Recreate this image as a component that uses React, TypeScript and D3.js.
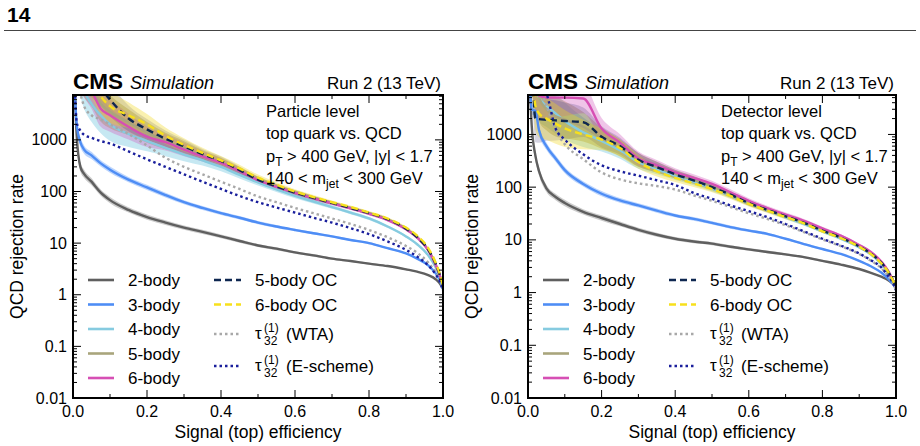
import * as d3 from "d3";

// signal efficiency grid shared by all curves
const eff = [0.005, 0.01, 0.02, 0.03, 0.05, 0.075, 0.1, 0.15, 0.2, 0.25, 0.3, 0.35, 0.4, 0.45, 0.5, 0.55, 0.6, 0.65, 0.7, 0.75, 0.8, 0.85, 0.9, 0.93, 0.96, 0.98, 0.99, 1.0];

// particle level
const partTwo = [9000, 1200, 300, 220, 155, 95, 68, 44, 32, 25, 20, 16.5, 13.5, 11, 9, 7.8, 6.6, 5.8, 5.0, 4.5, 4.0, 3.6, 3.1, 2.8, 2.4, 2.0, 1.7, 1.3];
const partThree = [8000, 2000, 900, 650, 500, 350, 265, 170, 120, 85, 62, 48, 38, 31, 25, 21, 18, 15.5, 13.5, 11.5, 10, 8, 6.3, 5, 3.7, 2.6, 2, 1.3];
const partFour = [30000, 20000, 15000, 9000, 5000, 3000, 2000, 1300, 950, 700, 520, 400, 300, 210, 150, 110, 82, 64, 50, 39, 30, 21, 13.5, 9.5, 5.8, 3.4, 2.3, 1.4];
const partFive = [30000, 25000, 20000, 15000, 10000, 5000, 3500, 2200, 1400, 950, 700, 500, 370, 255, 168, 125, 95, 75, 60, 48, 38, 29, 19, 13, 7.4, 3.9, 2.5, 1.5];
const partSix = [30000, 25000, 20000, 15000, 9000, 4000, 3000, 1800, 1150, 900, 650, 480, 360, 250, 165, 123, 94, 74, 59, 47, 37, 28, 18.5, 12.8, 7.2, 3.8, 2.5, 1.5];
const partFiveOC = [30000, 25000, 20000, 18000, 15000, 10000, 6000, 2600, 1600, 1050, 750, 530, 390, 260, 170, 125, 95, 75, 60, 48, 38, 29, 19, 13, 7.5, 4, 2.6, 1.5];
const partSixOC = [30000, 25000, 22000, 20000, 15000, 7000, 4500, 3000, 2000, 1200, 800, 560, 400, 280, 185, 135, 100, 78, 62, 50, 39, 30, 20, 14, 8, 4.2, 2.7, 1.5];
const partWTA = [30000, 20000, 8000, 4500, 3000, 2500, 2000, 1300, 780, 450, 300, 215, 155, 112, 80, 62, 48, 38, 30, 23.5, 18, 13, 8.8, 6.5, 4.2, 2.7, 2, 1.3];
const partEsch = [9000, 2200, 1500, 1250, 1100, 950, 850, 600, 420, 300, 215, 155, 112, 82, 62, 49, 39, 31, 25, 19.5, 15, 10.8, 7.4, 5.5, 3.7, 2.5, 1.9, 1.2];

// detector level
const detTwo = [9000, 1500, 400, 200, 95, 65, 50, 34, 26, 20, 15.5, 12.5, 10.5, 9.3, 8.5, 7.4, 6.6, 5.9, 5.3, 4.7, 4.0, 3.4, 2.8, 2.4, 2.0, 1.7, 1.5, 1.2];
const detThree = [9000, 3000, 2800, 1200, 600, 350, 210, 115, 75, 56, 45, 36, 29, 25, 21, 17.5, 15, 13, 10.5, 8.3, 6.7, 5.4, 4.0, 3.2, 2.4, 1.8, 1.5, 1.2];
const detFour = [30000, 20000, 8000, 5000, 3500, 2500, 1800, 1100, 750, 500, 300, 220, 165, 128, 95, 70, 50, 37, 27, 20, 14.5, 10.5, 7.2, 5.4, 3.5, 2.3, 1.7, 1.25];
const detFive = [30000, 20000, 9000, 5000, 3000, 2200, 1900, 1400, 850, 560, 330, 240, 178, 138, 102, 73, 51, 38, 28.5, 21.5, 15.5, 11.2, 7.6, 5.7, 3.7, 2.4, 1.8, 1.3];
const detSix = [30000, 20000, 8000, 5500, 5000, 5000, 5000, 4800, 1300, 700, 350, 260, 190, 150, 115, 80, 55, 40, 30, 23, 16.5, 12, 8, 6, 3.9, 2.5, 1.8, 1.3];
const detFiveOC = [30000, 20000, 2000, 1950, 1900, 1850, 1800, 1700, 900, 600, 330, 240, 175, 135, 100, 72, 50, 37, 28, 21, 15, 11, 7.5, 5.6, 3.7, 2.4, 1.8, 1.3];
const detSixOC = [30000, 20000, 3500, 2500, 2000, 1600, 1300, 1000, 800, 550, 300, 200, 150, 118, 92, 68, 48, 36, 27, 20.5, 14.5, 10.8, 7.4, 5.5, 3.6, 2.4, 1.8, 1.3];
const detWTA = [30000, 20000, 12000, 8000, 3500, 1200, 650, 340, 190, 140, 118, 105, 90, 70, 55, 42, 32, 25, 19, 14, 10.2, 7.6, 5.4, 4.1, 2.9, 2, 1.6, 1.1];
const detEsch = [30000, 20000, 15000, 9000, 6000, 1300, 800, 420, 260, 200, 165, 135, 110, 78, 60, 45, 35, 27, 20, 14.5, 10.5, 7.8, 5.5, 4.2, 3, 2, 1.6, 1.1];

// band half widths, in decades
const errNarrow = [0.1, 0.1, 0.09, 0.08, 0.07, 0.06, 0.06, 0.05, 0.05, 0.045, 0.04, 0.04, 0.035, 0.035, 0.03, 0.03, 0.025, 0.025, 0.02, 0.02, 0.02, 0.015, 0.015, 0.01, 0.01, 0.01, 0.01, 0.01];
const errWide = [0.35, 0.35, 0.35, 0.35, 0.35, 0.35, 0.32, 0.25, 0.2, 0.16, 0.13, 0.1, 0.085, 0.07, 0.06, 0.05, 0.045, 0.04, 0.035, 0.03, 0.03, 0.025, 0.02, 0.02, 0.015, 0.01, 0.01, 0.01];
const errWideDet = [0.5, 0.5, 0.45, 0.45, 0.4, 0.38, 0.35, 0.28, 0.2, 0.16, 0.13, 0.1, 0.08, 0.07, 0.06, 0.055, 0.05, 0.045, 0.04, 0.035, 0.03, 0.025, 0.02, 0.02, 0.015, 0.01, 0.01, 0.01];

const yTicks = [0.01, 0.1, 1, 10, 100, 1000];
const xTicks = [0, 0.2, 0.4, 0.6, 0.8, 1.0];
const xMinor = [0.1, 0.3, 0.5, 0.7, 0.9];

const FONT = "'Liberation Sans', Arial, Helvetica, sans-serif";
const TOP = 95, BOTTOM = 398;

const makeSeries = (v: number[][], wide: number[]) => [
  { key: "two", label: "2-body", vals: v[0], color: "#5f5f5f", band: "rgba(110,110,110,0.35)", err: errNarrow, dash: null },
  { key: "three", label: "3-body", vals: v[1], color: "#4e8df5", band: "rgba(80,145,250,0.38)", err: errNarrow, dash: null },
  { key: "four", label: "4-body", vals: v[2], color: "#86cbe0", band: "rgba(120,200,225,0.42)", err: wide, dash: null },
  { key: "five", label: "5-body", vals: v[3], color: "#a9a57c", band: "rgba(165,155,55,0.4)", err: wide, dash: null },
  { key: "six", label: "6-body", vals: v[4], color: "#d64fb4", band: "rgba(210,90,190,0.35)", err: wide, dash: null },
  { key: "wta", label: "WTA", vals: v[7], color: "#a8a8a8", band: null, err: null, dash: "2.5,3" },
  { key: "esch", label: "E-scheme", vals: v[8], color: "#1a1f9c", band: null, err: null, dash: "2.5,3" },
  { key: "fiveOC", label: "5-body OC", vals: v[5], color: "#0e2750", band: "rgba(45,40,110,0.2)", err: wide, dash: "7,4" },
  { key: "sixOC", label: "6-body OC", vals: v[6], color: "#f7e01c", band: "rgba(240,215,30,0.35)", err: wide, dash: "7,4" },
];

const panels = [
  {
    id: "p", x0: 73, x1: 443, yMax: 7400, level: "Particle level",
    series: makeSeries([partTwo, partThree, partFour, partFive, partSix, partFiveOC, partSixOC, partWTA, partEsch], errWide),
  },
  {
    id: "d", x0: 528, x1: 896, yMax: 5600, level: "Detector level",
    series: makeSeries([detTwo, detThree, detFour, detFive, detSix, detFiveOC, detSixOC, detWTA, detEsch], errWideDet),
  },
];

const fmt = (v: number) => (v < 1 ? String(v) : d3.format("d")(v));

function Panel({ p }: { p: any }) {
  const x = d3.scaleLinear().domain([0, 1]).range([p.x0, p.x1]);
  const y = d3.scaleLog().domain([0.01, p.yMax]).range([BOTTOM, TOP]);
  const line = d3.line<number>().x((_, i) => x(eff[i])).y(d => y(d)).curve(d3.curveMonotoneX);
  const area = (err: number[]) =>
    d3.area<number>()
      .x((_, i) => x(eff[i]))
      .y0((d, i) => y(d * Math.pow(10, -err[i])))
      .y1((d, i) => y(d * Math.pow(10, err[i])))
      .curve(d3.curveMonotoneX);

  const minorY: number[] = [];
  for (let e = -2; e <= 3; e++) for (let k = 2; k <= 9; k++) {
    const v = k * Math.pow(10, e);
    if (v < p.yMax) minorY.push(v);
  }

  const leftCol = ["two", "three", "four", "five", "six"];
  const rowY = [280, 304.5, 329, 353.5, 378];
  const byKey = (k: string) => p.series.find((s: any) => s.key === k);
  const cx = (p.x0 + p.x1) / 2;

  return (
    <g>
      <defs>
        <clipPath id={"clip-" + p.id}>
          <rect x={p.x0} y={TOP} width={p.x1 - p.x0} height={BOTTOM - TOP} />
        </clipPath>
      </defs>
      <g clipPath={`url(#clip-${p.id})`}>
        {p.series.filter((s: any) => s.band).map((s: any) => (
          <path key={"b" + s.key} d={area(s.err)(s.vals) || ""} fill={s.band} stroke="none" />
        ))}
        {p.series.map((s: any) => (
          <path key={"l" + s.key} d={line(s.vals) || ""} fill="none" stroke={s.color}
            strokeWidth={2.4} strokeDasharray={s.dash || undefined} />
        ))}
      </g>

      {/* ticks, all four sides, pointing in */}
      {yTicks.map(v => (
        <g key={"yt" + v}>
          <line x1={p.x0} x2={p.x0 + 8} y1={y(v)} y2={y(v)} stroke="#000" strokeWidth={1} />
          <line x1={p.x1} x2={p.x1 - 8} y1={y(v)} y2={y(v)} stroke="#000" strokeWidth={1} />
          <text x={p.x0 - 6} y={y(v) + 5.5} textAnchor="end" fontSize={16} fontFamily={FONT}>{fmt(v)}</text>
        </g>
      ))}
      {minorY.map(v => (
        <g key={"ym" + v}>
          <line x1={p.x0} x2={p.x0 + 4} y1={y(v)} y2={y(v)} stroke="#000" strokeWidth={1} />
          <line x1={p.x1} x2={p.x1 - 4} y1={y(v)} y2={y(v)} stroke="#000" strokeWidth={1} />
        </g>
      ))}
      {xTicks.map(v => (
        <g key={"xt" + v}>
          <line x1={x(v)} x2={x(v)} y1={BOTTOM} y2={BOTTOM - 8} stroke="#000" strokeWidth={1} />
          <line x1={x(v)} x2={x(v)} y1={TOP} y2={TOP + 8} stroke="#000" strokeWidth={1} />
          <text x={x(v)} y={417} textAnchor="middle" fontSize={16} fontFamily={FONT}>{v.toFixed(1)}</text>
        </g>
      ))}
      {xMinor.map(v => (
        <g key={"xm" + v}>
          <line x1={x(v)} x2={x(v)} y1={BOTTOM} y2={BOTTOM - 4} stroke="#000" strokeWidth={1} />
          <line x1={x(v)} x2={x(v)} y1={TOP} y2={TOP + 4} stroke="#000" strokeWidth={1} />
        </g>
      ))}
      <rect x={p.x0} y={TOP} width={p.x1 - p.x0} height={BOTTOM - TOP} fill="none" stroke="#000" strokeWidth={2} />

      {/* header */}
      <text x={p.x0} y={89} fontSize={22.5} fontWeight="bold" fontFamily={FONT}>CMS</text>
      <text x={p.x0 + 57} y={89} fontSize={18} fontStyle="italic" fontFamily={FONT}>Simulation</text>
      <text x={p.x1 - 2} y={89} textAnchor="end" fontSize={17} fontFamily={FONT}>Run 2 (13 TeV)</text>

      {/* selection text */}
      <g fontSize={16.5} fontFamily={FONT}>
        <text x={p.x0 + 193} y={117}>{p.level}</text>
        <text x={p.x0 + 193} y={139}>top quark vs. QCD</text>
        <text x={p.x0 + 193} y={161.5}>
          p<tspan fontSize={12} dy={4}>T</tspan><tspan dy={-4}>{" > 400 GeV, |y| < 1.7"}</tspan>
        </text>
        <text x={p.x0 + 193} y={183.5}>
          {"140 < m"}<tspan fontSize={12} dy={4}>jet</tspan><tspan dy={-4}>{" < 300 GeV"}</tspan>
        </text>
      </g>

      {/* legend */}
      <g fontSize={17} fontFamily={FONT}>
        {leftCol.map((k, i) => {
          const s = byKey(k);
          return (
            <g key={"lg" + k}>
              <line x1={p.x0 + 15} x2={p.x0 + 41} y1={rowY[i]} y2={rowY[i]} stroke={s.color} strokeWidth={2.6} />
              <text x={p.x0 + 55} y={rowY[i] + 6}>{s.label}</text>
            </g>
          );
        })}
        {["fiveOC", "sixOC"].map((k, i) => {
          const s = byKey(k);
          return (
            <g key={"lg" + k}>
              <line x1={p.x0 + 141} x2={p.x0 + 168} y1={rowY[i]} y2={rowY[i]} stroke={s.color} strokeWidth={2.6} strokeDasharray={s.dash} />
              <text x={p.x0 + 182} y={rowY[i] + 6}>{s.label}</text>
            </g>
          );
        })}
        {[["wta", 334, "(WTA)"], ["esch", 366, "(E-scheme)"]].map(([k, ly, txt]: any) => {
          const s = byKey(k);
          return (
            <g key={"lg" + k}>
              <line x1={p.x0 + 141} x2={p.x0 + 168} y1={ly} y2={ly} stroke={s.color} strokeWidth={2.6} strokeDasharray={s.dash} />
              <text x={p.x0 + 182} y={ly + 5}>τ</text>
              <text x={p.x0 + 191} y={ly - 2} fontSize={12}>(1)</text>
              <text x={p.x0 + 191} y={ly + 11} fontSize={12}>32</text>
              <text x={p.x0 + 213} y={ly + 6}>{txt}</text>
            </g>
          );
        })}
      </g>

      {/* axis titles */}
      <text x={cx} y={438} textAnchor="middle" fontSize={17.5} fontFamily={FONT}>Signal (top) efficiency</text>
      <text transform={`translate(${p.x0 - 50},${(TOP + BOTTOM) / 2}) rotate(-90)`} textAnchor="middle"
        fontSize={17.5} fontFamily={FONT}>QCD rejection rate</text>
    </g>
  );
}

export default function App() {
  return (
    <svg width={920} height={446} style={{ position: "absolute", left: 0, top: 0, background: "#fff" }}>
      <rect x={0} y={0} width={920} height={446} fill="#fff" />
      <text x={7} y={22} fontSize={21} fontWeight="bold" fontFamily={FONT}>14</text>
      <line x1={4} x2={916} y1={30.5} y2={30.5} stroke="#444" strokeWidth={1} />
      {panels.map(p => <Panel key={p.id} p={p} />)}
    </svg>
  );
}
